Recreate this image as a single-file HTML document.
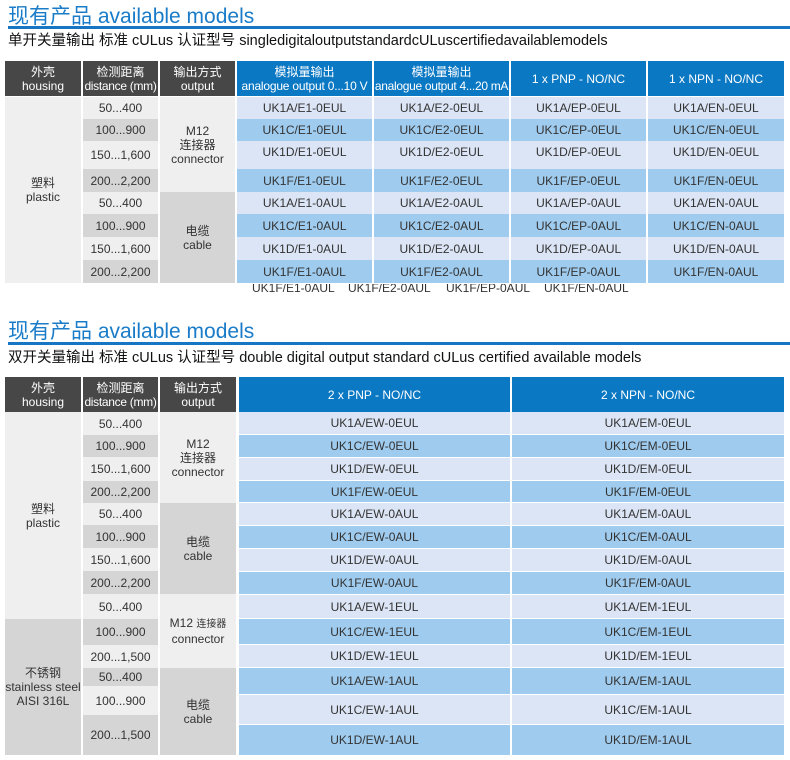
<!DOCTYPE html>
<html><head><meta charset="utf-8"><style>
body{margin:0;width:790px;height:760px;background:#fff;position:relative;overflow:hidden;font-family:"Liberation Sans","Noto Sans CJK SC",sans-serif}
.c{position:absolute;display:flex;flex-direction:column;align-items:center;justify-content:center;text-align:center;font-size:12px;color:#333;line-height:14px;box-sizing:border-box;white-space:nowrap}
.h{background:#474747;color:#fff;font-size:12px;line-height:14px;overflow:hidden}
.b{background:#0b78c4;color:#fff;font-size:12px;line-height:14px;overflow:hidden}
.L{background:#dce5f5}.B{background:#9fcbee}.g{background:#efefef}.G{background:#d5d5d5}
.t{position:absolute;left:8px;color:#1a7cc8;font-size:21px;white-space:nowrap}
.ln{position:absolute;left:8px;width:782px;height:3px;background:#1776c4}
.s{position:absolute;left:8px;font-size:14.5px;color:#111;white-space:nowrap}
.top{justify-content:flex-start;padding-top:4px}
</style></head><body>
<div class="t" style="top:0px">现有产品 available models</div>
<div class="ln" style="top:26px"></div>
<div class="s" style="top:29px">单开关量输出 标准 cULus 认证型号 singledigitaloutputstandardcULuscertifiedavailablemodels</div>

<div class="c h" style="left:5px;top:61px;width:76px;height:35px"><div>外壳</div><div>housing</div></div>
<div class="c h" style="left:83px;top:61px;width:75px;height:35px"><div>检测距离</div><div style="letter-spacing:-0.3px">distance (mm)</div></div>
<div class="c h" style="left:160px;top:61px;width:75px;height:35px"><div>输出方式</div><div>output</div></div>
<div class="c b" style="left:237px;top:61px;width:135px;height:35px"><div>模拟量输出</div><div style="letter-spacing:-0.2px">analogue output 0...10 V</div></div>
<div class="c b" style="left:374px;top:61px;width:135px;height:35px"><div>模拟量输出</div><div style="letter-spacing:-0.3px">analogue output 4...20 mA</div></div>
<div class="c b" style="left:511px;top:61px;width:135px;height:35px">1 x PNP - NO/NC</div>
<div class="c b" style="left:648px;top:61px;width:136px;height:35px">1 x NPN - NO/NC</div>

<div class="c g" style="left:5px;top:97px;width:76px;height:186px"><div>塑料</div><div>plastic</div></div>
<div class="c g" style="left:83px;top:97px;width:75px;height:22px">50...400</div>
<div class="c G" style="left:83px;top:119px;width:75px;height:22px">100...900</div>
<div class="c g" style="left:83px;top:141px;width:75px;height:28px">150...1,600</div>
<div class="c G" style="left:83px;top:169px;width:75px;height:23px">200...2,200</div>
<div class="c g" style="left:83px;top:192px;width:75px;height:22px">50...400</div>
<div class="c G" style="left:83px;top:214px;width:75px;height:23px">100...900</div>
<div class="c g" style="left:83px;top:237px;width:75px;height:23px">150...1,600</div>
<div class="c G" style="left:83px;top:260px;width:75px;height:23px">200...2,200</div>
<div class="c g" style="left:160px;top:97px;width:75px;height:95px"><div>M12</div><div>连接器</div><div>connector</div></div>
<div class="c G" style="left:160px;top:192px;width:75px;height:91px"><div>电缆</div><div>cable</div></div>

<div class="c L" style="left:237px;top:97px;width:135px;height:22px">UK1A/E1-0EUL</div>
<div class="c L" style="left:374px;top:97px;width:135px;height:22px">UK1A/E2-0EUL</div>
<div class="c L" style="left:511px;top:97px;width:135px;height:22px">UK1A/EP-0EUL</div>
<div class="c L" style="left:648px;top:97px;width:136px;height:22px">UK1A/EN-0EUL</div>
<div class="c B" style="left:237px;top:119px;width:135px;height:22px">UK1C/E1-0EUL</div>
<div class="c B" style="left:374px;top:119px;width:135px;height:22px">UK1C/E2-0EUL</div>
<div class="c B" style="left:511px;top:119px;width:135px;height:22px">UK1C/EP-0EUL</div>
<div class="c B" style="left:648px;top:119px;width:136px;height:22px">UK1C/EN-0EUL</div>
<div class="c L top" style="left:237px;top:141px;width:135px;height:28px">UK1D/E1-0EUL</div>
<div class="c L top" style="left:374px;top:141px;width:135px;height:28px">UK1D/E2-0EUL</div>
<div class="c L top" style="left:511px;top:141px;width:135px;height:28px">UK1D/EP-0EUL</div>
<div class="c L top" style="left:648px;top:141px;width:136px;height:28px">UK1D/EN-0EUL</div>
<div class="c B" style="left:237px;top:169px;width:135px;height:23px">UK1F/E1-0EUL</div>
<div class="c B" style="left:374px;top:169px;width:135px;height:23px">UK1F/E2-0EUL</div>
<div class="c B" style="left:511px;top:169px;width:135px;height:23px">UK1F/EP-0EUL</div>
<div class="c B" style="left:648px;top:169px;width:136px;height:23px">UK1F/EN-0EUL</div>
<div class="c L" style="left:237px;top:192px;width:135px;height:22px">UK1A/E1-0AUL</div>
<div class="c L" style="left:374px;top:192px;width:135px;height:22px">UK1A/E2-0AUL</div>
<div class="c L" style="left:511px;top:192px;width:135px;height:22px">UK1A/EP-0AUL</div>
<div class="c L" style="left:648px;top:192px;width:136px;height:22px">UK1A/EN-0AUL</div>
<div class="c B" style="left:237px;top:214px;width:135px;height:23px">UK1C/E1-0AUL</div>
<div class="c B" style="left:374px;top:214px;width:135px;height:23px">UK1C/E2-0AUL</div>
<div class="c B" style="left:511px;top:214px;width:135px;height:23px">UK1C/EP-0AUL</div>
<div class="c B" style="left:648px;top:214px;width:136px;height:23px">UK1C/EN-0AUL</div>
<div class="c L" style="left:237px;top:237px;width:135px;height:23px">UK1D/E1-0AUL</div>
<div class="c L" style="left:374px;top:237px;width:135px;height:23px">UK1D/E2-0AUL</div>
<div class="c L" style="left:511px;top:237px;width:135px;height:23px">UK1D/EP-0AUL</div>
<div class="c L" style="left:648px;top:237px;width:136px;height:23px">UK1D/EN-0AUL</div>
<div class="c B" style="left:237px;top:260px;width:135px;height:23px">UK1F/E1-0AUL</div>
<div class="c B" style="left:374px;top:260px;width:135px;height:23px">UK1F/E2-0AUL</div>
<div class="c B" style="left:511px;top:260px;width:135px;height:23px">UK1F/EP-0AUL</div>
<div class="c B" style="left:648px;top:260px;width:136px;height:23px">UK1F/EN-0AUL</div>
<div style="position:absolute;left:0;top:284px;width:790px;height:9px;overflow:hidden;font-size:12px;color:#333;white-space:nowrap">
<span style="position:absolute;left:252px;top:-3px">UK1F/E1-0AUL</span>
<span style="position:absolute;left:348px;top:-3px">UK1F/E2-0AUL</span>
<span style="position:absolute;left:446px;top:-3px">UK1F/EP-0AUL</span>
<span style="position:absolute;left:544px;top:-3px">UK1F/EN-0AUL</span>
</div>

<div class="t" style="top:315px">现有产品 available models</div>
<div class="ln" style="top:342px"></div>
<div class="s" style="top:346px">双开关量输出 标准 cULus 认证型号 double digital output standard cULus certified available models</div>

<div class="c h" style="left:5px;top:377px;width:76px;height:35px"><div>外壳</div><div>housing</div></div>
<div class="c h" style="left:83px;top:377px;width:75px;height:35px"><div>检测距离</div><div style="letter-spacing:-0.3px">distance (mm)</div></div>
<div class="c h" style="left:160px;top:377px;width:76px;height:35px"><div>输出方式</div><div>output</div></div>
<div class="c b" style="left:239px;top:377px;width:271px;height:35px">2 x PNP - NO/NC</div>
<div class="c b" style="left:512px;top:377px;width:272px;height:35px">2 x NPN - NO/NC</div>

<div class="c g" style="left:5px;top:412px;width:76px;height:207px"><div>塑料</div><div>plastic</div></div>
<div class="c G" style="left:5px;top:619px;width:76px;height:136px"><div>不锈钢</div><div>stainless steel</div><div>AISI 316L</div></div>
<div class="c g" style="left:83px;top:412px;width:75px;height:23px">50...400</div>
<div class="c G" style="left:83px;top:435px;width:75px;height:22px">100...900</div>
<div class="c g" style="left:83px;top:457px;width:75px;height:24px">150...1,600</div>
<div class="c G" style="left:83px;top:481px;width:75px;height:22px">200...2,200</div>
<div class="c g" style="left:83px;top:503px;width:75px;height:22px">50...400</div>
<div class="c G" style="left:83px;top:525px;width:75px;height:23px">100...900</div>
<div class="c g" style="left:83px;top:548px;width:75px;height:23px">150...1,600</div>
<div class="c G" style="left:83px;top:571px;width:75px;height:23px">200...2,200</div>
<div class="c g" style="left:83px;top:594px;width:75px;height:25px">50...400</div>
<div class="c G" style="left:83px;top:619px;width:75px;height:26px">100...900</div>
<div class="c g" style="left:83px;top:645px;width:75px;height:23px">200...1,500</div>
<div class="c G" style="left:83px;top:668px;width:75px;height:18px">50...400</div>
<div class="c g" style="left:83px;top:686px;width:75px;height:29px">100...900</div>
<div class="c G" style="left:83px;top:715px;width:75px;height:40px">200...1,500</div>
<div class="c g" style="left:160px;top:412px;width:76px;height:91px"><div>M12</div><div>连接器</div><div>connector</div></div>
<div class="c G" style="left:160px;top:503px;width:76px;height:91px"><div>电缆</div><div>cable</div></div>
<div class="c g" style="left:160px;top:594px;width:76px;height:74px"><div>M12 <span style="font-size:10px">连接器</span></div><div>connector</div></div>
<div class="c G" style="left:160px;top:668px;width:76px;height:87px"><div>电缆</div><div>cable</div></div>

<div class="c L" style="left:239px;top:412px;width:271px;height:22px">UK1A/EW-0EUL</div>
<div class="c L" style="left:512px;top:412px;width:272px;height:22px">UK1A/EM-0EUL</div>
<div class="c B" style="left:239px;top:435px;width:271px;height:22px">UK1C/EW-0EUL</div>
<div class="c B" style="left:512px;top:435px;width:272px;height:22px">UK1C/EM-0EUL</div>
<div class="c L" style="left:239px;top:458px;width:271px;height:22px">UK1D/EW-0EUL</div>
<div class="c L" style="left:512px;top:458px;width:272px;height:22px">UK1D/EM-0EUL</div>
<div class="c B" style="left:239px;top:481px;width:271px;height:21px">UK1F/EW-0EUL</div>
<div class="c B" style="left:512px;top:481px;width:272px;height:21px">UK1F/EM-0EUL</div>
<div class="c L" style="left:239px;top:503px;width:271px;height:22px">UK1A/EW-0AUL</div>
<div class="c L" style="left:512px;top:503px;width:272px;height:22px">UK1A/EM-0AUL</div>
<div class="c B" style="left:239px;top:526px;width:271px;height:22px">UK1C/EW-0AUL</div>
<div class="c B" style="left:512px;top:526px;width:272px;height:22px">UK1C/EM-0AUL</div>
<div class="c L" style="left:239px;top:549px;width:271px;height:22px">UK1D/EW-0AUL</div>
<div class="c L" style="left:512px;top:549px;width:272px;height:22px">UK1D/EM-0AUL</div>
<div class="c B" style="left:239px;top:572px;width:271px;height:22px">UK1F/EW-0AUL</div>
<div class="c B" style="left:512px;top:572px;width:272px;height:22px">UK1F/EM-0AUL</div>
<div class="c L" style="left:239px;top:595px;width:271px;height:23px">UK1A/EW-1EUL</div>
<div class="c L" style="left:512px;top:595px;width:272px;height:23px">UK1A/EM-1EUL</div>
<div class="c B" style="left:239px;top:619px;width:271px;height:25px">UK1C/EW-1EUL</div>
<div class="c B" style="left:512px;top:619px;width:272px;height:25px">UK1C/EM-1EUL</div>
<div class="c L" style="left:239px;top:645px;width:271px;height:22px">UK1D/EW-1EUL</div>
<div class="c L" style="left:512px;top:645px;width:272px;height:22px">UK1D/EM-1EUL</div>
<div class="c B" style="left:239px;top:668px;width:271px;height:26px">UK1A/EW-1AUL</div>
<div class="c B" style="left:512px;top:668px;width:272px;height:26px">UK1A/EM-1AUL</div>
<div class="c L" style="left:239px;top:695px;width:271px;height:29px">UK1C/EW-1AUL</div>
<div class="c L" style="left:512px;top:695px;width:272px;height:29px">UK1C/EM-1AUL</div>
<div class="c B" style="left:239px;top:725px;width:271px;height:30px">UK1D/EW-1AUL</div>
<div class="c B" style="left:512px;top:725px;width:272px;height:30px">UK1D/EM-1AUL</div>
</body></html>
